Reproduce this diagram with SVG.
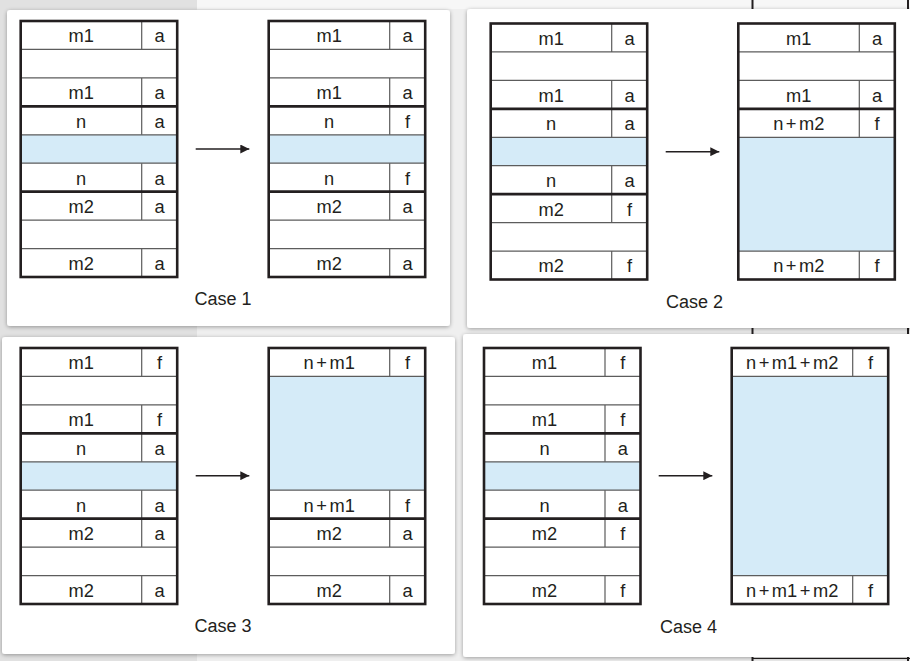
<svg xmlns="http://www.w3.org/2000/svg" width="910" height="661" viewBox="0 0 910 661">
<style>
  .bgL{fill:#e1e1e1}
  .bgR{fill:#efefef}
  .panel{fill:#ffffff;filter:url(#sh)}
  .cellbg{fill:#ffffff}
  .blue{fill:#d5ebf8}
  .thin{stroke:#5c5c5c;stroke-width:1.2;fill:none}
  .thick{stroke:#231f20;stroke-width:2.6;fill:none}
  .border{stroke:#231f20;stroke-width:2.6;fill:none}
  .t{font-family:"Liberation Sans",Arial,Helvetica,sans-serif;font-size:18.3px;fill:#231f20;text-anchor:middle}
  .cap{font-family:"Liberation Sans",Arial,Helvetica,sans-serif;font-size:18px;fill:#231f20;text-anchor:middle}
  .arr{stroke:#231f20;stroke-width:1.4;fill:none}
  .art{stroke:#231f20;stroke-width:2;fill:none}
</style>
<defs>
  <filter id="sh" x="-5%" y="-5%" width="110%" height="110%">
    <feGaussianBlur in="SourceAlpha" stdDeviation="2"/>
    <feOffset dx="0" dy="1" result="b"/>
    <feComponentTransfer><feFuncA type="linear" slope="0.35"/></feComponentTransfer>
    <feMerge><feMergeNode/><feMergeNode in="SourceGraphic"/></feMerge>
  </filter>
  <marker id="ah" markerUnits="userSpaceOnUse" markerWidth="10" markerHeight="9" refX="9" refY="4.5" orient="auto">
    <path d="M0,0 L9,4.5 L0,9 z" fill="#231f20"/>
  </marker>
</defs>

<g id="background">
  <rect class="bgR" x="0" y="0" width="910" height="661"/>
  <rect class="bgL" x="0" y="0" width="197" height="661"/>
  <rect x="197" y="0" width="713" height="9" fill="#f7f7f7"/>
  <line class="art" x1="752.5" y1="0" x2="752.5" y2="9"/>
  <line class="art" x1="908" y1="0" x2="908" y2="9"/>
  <line class="art" x1="752.5" y1="327" x2="752.5" y2="335"/>
  <line class="art" x1="908" y1="327" x2="908" y2="335"/>
  <line class="art" x1="752.5" y1="656" x2="752.5" y2="661"/>
  <line class="art" x1="908" y1="656" x2="908" y2="661"/>
  <line x1="752" y1="658.5" x2="910" y2="658.5" stroke="#231f20" stroke-width="1.2"/>
</g>

<g id="panels">
  <rect class="panel" x="7" y="10" width="443" height="316" rx="3"/>
  <rect class="panel" x="467" y="9" width="450" height="319" rx="3"/>
  <rect class="panel" x="2" y="337" width="453" height="317" rx="3"/>
  <rect class="panel" x="463" y="334" width="450" height="323" rx="3"/>
</g>

<!-- Case 1 left -->
<g id="c1-before" transform="translate(20.7,21)">
  <rect class="cellbg" width="156.5" height="256"/>
  <rect class="blue" x="0" y="113.78" width="156.5" height="28.44"/>
  <path class="thin" d="M0,28.44H156.5M0,56.89H156.5M0,113.78H156.5M0,142.22H156.5M0,199.11H156.5M0,227.56H156.5"/>
  <path class="thin" d="M121,0V28.44M121,56.89V113.78M121,142.22V199.11M121,227.56V256"/>
  <path class="thick" d="M0,85.33H156.5M0,170.67H156.5"/>
  <rect class="border" width="156.5" height="256"/>
  <text class="t" x="60.5" y="21.3">m1</text><text class="t" x="138.8" y="21.3">a</text>
  <text class="t" x="60.5" y="78.2">m1</text><text class="t" x="138.8" y="78.2">a</text>
  <text class="t" x="60.5" y="106.6">n</text><text class="t" x="138.8" y="106.6">a</text>
  <text class="t" x="60.5" y="163.5">n</text><text class="t" x="138.8" y="163.5">a</text>
  <text class="t" x="60.5" y="192">m2</text><text class="t" x="138.8" y="192">a</text>
  <text class="t" x="60.5" y="248.9">m2</text><text class="t" x="138.8" y="248.9">a</text>
</g>
<!-- Case 1 right -->
<g id="c1-after" transform="translate(268.7,21)">
  <rect class="cellbg" width="156.5" height="256"/>
  <rect class="blue" x="0" y="113.78" width="156.5" height="28.44"/>
  <path class="thin" d="M0,28.44H156.5M0,56.89H156.5M0,113.78H156.5M0,142.22H156.5M0,199.11H156.5M0,227.56H156.5"/>
  <path class="thin" d="M121,0V28.44M121,56.89V113.78M121,142.22V199.11M121,227.56V256"/>
  <path class="thick" d="M0,85.33H156.5M0,170.67H156.5"/>
  <rect class="border" width="156.5" height="256"/>
  <text class="t" x="60.5" y="21.3">m1</text><text class="t" x="138.8" y="21.3">a</text>
  <text class="t" x="60.5" y="78.2">m1</text><text class="t" x="138.8" y="78.2">a</text>
  <text class="t" x="60.5" y="106.6">n</text><text class="t" x="138.8" y="106.6">f</text>
  <text class="t" x="60.5" y="163.5">n</text><text class="t" x="138.8" y="163.5">f</text>
  <text class="t" x="60.5" y="192">m2</text><text class="t" x="138.8" y="192">a</text>
  <text class="t" x="60.5" y="248.9">m2</text><text class="t" x="138.8" y="248.9">a</text>
</g>

<!-- Case 2 left -->
<g id="c2-before" transform="translate(490.7,23.5)">
  <rect class="cellbg" width="156.5" height="256"/>
  <rect class="blue" x="0" y="113.78" width="156.5" height="28.44"/>
  <path class="thin" d="M0,28.44H156.5M0,56.89H156.5M0,113.78H156.5M0,142.22H156.5M0,199.11H156.5M0,227.56H156.5"/>
  <path class="thin" d="M121,0V28.44M121,56.89V113.78M121,142.22V199.11M121,227.56V256"/>
  <path class="thick" d="M0,85.33H156.5M0,170.67H156.5"/>
  <rect class="border" width="156.5" height="256"/>
  <text class="t" x="60.5" y="21.3">m1</text><text class="t" x="138.8" y="21.3">a</text>
  <text class="t" x="60.5" y="78.2">m1</text><text class="t" x="138.8" y="78.2">a</text>
  <text class="t" x="60.5" y="106.6">n</text><text class="t" x="138.8" y="106.6">a</text>
  <text class="t" x="60.5" y="163.5">n</text><text class="t" x="138.8" y="163.5">a</text>
  <text class="t" x="60.5" y="192">m2</text><text class="t" x="138.8" y="192">f</text>
  <text class="t" x="60.5" y="248.9">m2</text><text class="t" x="138.8" y="248.9">f</text>
</g>
<!-- Case 2 right -->
<g id="c2-after" transform="translate(738.3,23.5)">
  <rect class="cellbg" width="156.5" height="256"/>
  <rect class="blue" x="0" y="113.78" width="156.5" height="113.78"/>
  <path class="thin" d="M0,28.44H156.5M0,56.89H156.5M0,113.78H156.5M0,227.56H156.5"/>
  <path class="thin" d="M121,0V28.44M121,56.89V113.78M121,227.56V256"/>
  <path class="thick" d="M0,85.33H156.5"/>
  <rect class="border" width="156.5" height="256"/>
  <text class="t" x="60.5" y="21.3">m1</text><text class="t" x="138.8" y="21.3">a</text>
  <text class="t" x="60.5" y="78.2">m1</text><text class="t" x="138.8" y="78.2">a</text>
  <text class="t" x="60.5" y="106.6">n<tspan dx="2.5">+</tspan><tspan dx="2.5">m2</tspan></text><text class="t" x="138.8" y="106.6">f</text>
  <text class="t" x="60.5" y="248.9">n<tspan dx="2.5">+</tspan><tspan dx="2.5">m2</tspan></text><text class="t" x="138.8" y="248.9">f</text>
</g>

<!-- Case 3 left -->
<g id="c3-before" transform="translate(20.7,348)">
  <rect class="cellbg" width="156.5" height="256"/>
  <rect class="blue" x="0" y="113.78" width="156.5" height="28.44"/>
  <path class="thin" d="M0,28.44H156.5M0,56.89H156.5M0,113.78H156.5M0,142.22H156.5M0,199.11H156.5M0,227.56H156.5"/>
  <path class="thin" d="M121,0V28.44M121,56.89V113.78M121,142.22V199.11M121,227.56V256"/>
  <path class="thick" d="M0,85.33H156.5M0,170.67H156.5"/>
  <rect class="border" width="156.5" height="256"/>
  <text class="t" x="60.5" y="21.3">m1</text><text class="t" x="138.8" y="21.3">f</text>
  <text class="t" x="60.5" y="78.2">m1</text><text class="t" x="138.8" y="78.2">f</text>
  <text class="t" x="60.5" y="106.6">n</text><text class="t" x="138.8" y="106.6">a</text>
  <text class="t" x="60.5" y="163.5">n</text><text class="t" x="138.8" y="163.5">a</text>
  <text class="t" x="60.5" y="192">m2</text><text class="t" x="138.8" y="192">a</text>
  <text class="t" x="60.5" y="248.9">m2</text><text class="t" x="138.8" y="248.9">a</text>
</g>
<!-- Case 3 right -->
<g id="c3-after" transform="translate(268.7,348)">
  <rect class="cellbg" width="156.5" height="256"/>
  <rect class="blue" x="0" y="28.44" width="156.5" height="113.78"/>
  <path class="thin" d="M0,28.44H156.5M0,142.22H156.5M0,199.11H156.5M0,227.56H156.5"/>
  <path class="thin" d="M121,0V28.44M121,142.22V199.11M121,227.56V256"/>
  <path class="thick" d="M0,170.67H156.5"/>
  <rect class="border" width="156.5" height="256"/>
  <text class="t" x="60.5" y="21.3">n<tspan dx="2.5">+</tspan><tspan dx="2.5">m1</tspan></text><text class="t" x="138.8" y="21.3">f</text>
  <text class="t" x="60.5" y="163.5">n<tspan dx="2.5">+</tspan><tspan dx="2.5">m1</tspan></text><text class="t" x="138.8" y="163.5">f</text>
  <text class="t" x="60.5" y="192">m2</text><text class="t" x="138.8" y="192">a</text>
  <text class="t" x="60.5" y="248.9">m2</text><text class="t" x="138.8" y="248.9">a</text>
</g>

<!-- Case 4 left -->
<g id="c4-before" transform="translate(484,348)">
  <rect class="cellbg" width="156.5" height="256"/>
  <rect class="blue" x="0" y="113.78" width="156.5" height="28.44"/>
  <path class="thin" d="M0,28.44H156.5M0,56.89H156.5M0,113.78H156.5M0,142.22H156.5M0,199.11H156.5M0,227.56H156.5"/>
  <path class="thin" d="M121,0V28.44M121,56.89V113.78M121,142.22V199.11M121,227.56V256"/>
  <path class="thick" d="M0,85.33H156.5M0,170.67H156.5"/>
  <rect class="border" width="156.5" height="256"/>
  <text class="t" x="60.5" y="21.3">m1</text><text class="t" x="138.8" y="21.3">f</text>
  <text class="t" x="60.5" y="78.2">m1</text><text class="t" x="138.8" y="78.2">f</text>
  <text class="t" x="60.5" y="106.6">n</text><text class="t" x="138.8" y="106.6">a</text>
  <text class="t" x="60.5" y="163.5">n</text><text class="t" x="138.8" y="163.5">a</text>
  <text class="t" x="60.5" y="192">m2</text><text class="t" x="138.8" y="192">f</text>
  <text class="t" x="60.5" y="248.9">m2</text><text class="t" x="138.8" y="248.9">f</text>
</g>
<!-- Case 4 right -->
<g id="c4-after" transform="translate(731.7,348)">
  <rect class="cellbg" width="156.5" height="256"/>
  <rect class="blue" x="0" y="28.44" width="156.5" height="199.12"/>
  <path class="thin" d="M0,28.44H156.5M0,227.56H156.5"/>
  <path class="thin" d="M121,0V28.44M121,227.56V256"/>
  <rect class="border" width="156.5" height="256"/>
  <text class="t" x="60.5" y="21.3">n<tspan dx="2.5">+</tspan><tspan dx="2.5">m1</tspan><tspan dx="2.5">+</tspan><tspan dx="2.5">m2</tspan></text><text class="t" x="138.8" y="21.3">f</text>
  <text class="t" x="60.5" y="248.9">n<tspan dx="2.5">+</tspan><tspan dx="2.5">m1</tspan><tspan dx="2.5">+</tspan><tspan dx="2.5">m2</tspan></text><text class="t" x="138.8" y="248.9">f</text>
</g>

<g id="connectors">
  <line class="arr" x1="195.7" y1="149" x2="249.3" y2="149" marker-end="url(#ah)"/>
  <line class="arr" x1="665.7" y1="151.7" x2="719.3" y2="151.7" marker-end="url(#ah)"/>
  <line class="arr" x1="195.7" y1="475.7" x2="249.3" y2="475.7" marker-end="url(#ah)"/>
  <line class="arr" x1="658.7" y1="475.7" x2="712.3" y2="475.7" marker-end="url(#ah)"/>
</g>

<g id="captions">
  <text class="cap" x="223" y="305">Case 1</text>
  <text class="cap" x="694.5" y="308.3">Case 2</text>
  <text class="cap" x="223" y="631.7">Case 3</text>
  <text class="cap" x="688.5" y="632.7">Case 4</text>
</g>
</svg>
